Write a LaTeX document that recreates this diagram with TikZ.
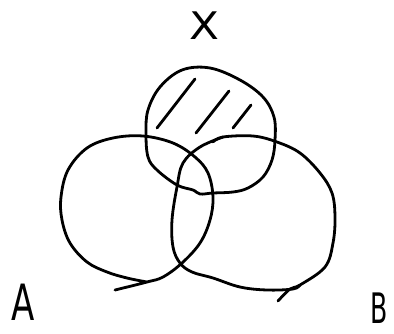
\documentclass[tikz,border=0pt]{standalone}
\usepackage{fontspec}
\setmainfont{DejaVu Sans}
\begin{document}
\begin{tikzpicture}[x=1pt,y=-1pt,
  pen/.style={line width=2.8pt,line cap=round,line join=round},
  lbl/.style={inner sep=0pt}]
\useasboundingbox (0,0) rectangle (394,333);
% circle X
\draw[pen] plot[smooth cycle,tension=0.6] coordinates {(182,70) (210,68) (240,80) (263,97) (274,117) (275,140) (272,160) (263,177) (248,188) (233,192) (213,193) (200,194) (193,190) (177,185) (157,170) (148,157) (146,133) (148,110) (160,87)};
% hatching
\draw[pen] (157,128) -- (195,79);
\draw[pen] (196,133) -- (229,91);
\draw[pen] (233,128) -- (251,105);
% circle A
\draw[pen] plot[smooth,tension=0.6] coordinates {(115,290) (147,282) (163,277) (182,263) (200,243) (210,220) (213,197) (208,173) (195,157) (173,143) (143,136) (113,138) (87,148) (68,170) (61,197) (62,220) (70,243) (87,262) (107,272) (127,278) (147,282)};
% circle B
\draw[pen] plot[smooth,tension=0.6] coordinates {(213,142) (223,137) (253,136) (277,142) (300,153) (320,173) (332,193) (335,217) (333,243) (325,267) (300,285) (290,289) (278,301)};
\draw[pen] plot[smooth,tension=0.6] coordinates {(223,137) (200,147) (183,163) (177,187) (172,220) (173,247) (180,263) (192,272) (213,278) (240,287) (267,290) (293,289) (300,285)};
% labels
\node[lbl] (x) at (204,26) {\fontsize{38}{42}\selectfont\scalebox{1.15}[1]{X}};
\node[lbl] (a) at (23,302) {\fontsize{50}{54}\selectfont\scalebox{0.68}[1]{A}};
\node[lbl] (b) at (379,308) {\fontsize{42}{46}\selectfont\scalebox{0.6}[1]{B}};
\end{tikzpicture}
\end{document}
